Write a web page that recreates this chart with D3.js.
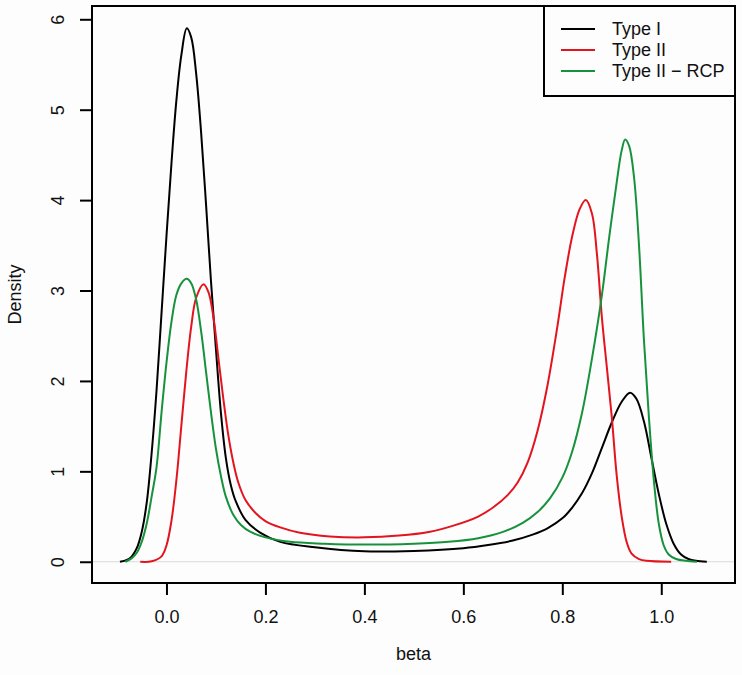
<!DOCTYPE html>
<html>
<head>
<meta charset="utf-8">
<script src="https://cdn.jsdelivr.net/npm/d3@7"></script>
<style>
  html, body { margin: 0; padding: 0; background: #fdfdfd; }
  svg { display: block; font-family: "Liberation Sans", Arial, Helvetica, sans-serif; }
</style>
</head>
<body>
<svg id="chart" width="742" height="675"></svg>
<script>
// ---- data ----
const seriesNames = ["Type I", "Type II", "Type II \u2212 RCP"];
const seriesColors = ["#000000", "#e3141e", "#17923c"];

const typeIX = [-0.094, -0.08, -0.07, -0.06, -0.05, -0.04, -0.03, -0.02, -0.01, 0.0, 0.01, 0.02, 0.03, 0.041, 0.05, 0.06, 0.07, 0.08, 0.09, 0.1, 0.11, 0.12, 0.13, 0.14, 0.16, 0.19, 0.23, 0.3, 0.4, 0.5, 0.6, 0.65, 0.7, 0.74, 0.77, 0.8, 0.82, 0.84, 0.86, 0.88, 0.9, 0.92, 0.937, 0.95, 0.965, 0.98, 0.995, 1.01, 1.025, 1.04, 1.055, 1.07, 1.092];
const typeIY = [0, 0.02, 0.06, 0.15, 0.33, 0.65, 1.2, 1.9, 2.75, 3.6, 4.4, 5.1, 5.6, 5.9, 5.8, 5.4, 4.75, 3.95, 3.1, 2.35, 1.65, 1.15, 0.85, 0.67, 0.46, 0.32, 0.22, 0.16, 0.115, 0.12, 0.15, 0.185, 0.235, 0.3, 0.37, 0.48, 0.6, 0.76, 0.98, 1.26, 1.54, 1.77, 1.87, 1.8, 1.55, 1.15, 0.75, 0.42, 0.2, 0.08, 0.03, 0.01, 0];

const typeIIX = [-0.053, -0.03, -0.01, 0.0, 0.01, 0.02, 0.03, 0.04, 0.05, 0.06, 0.075, 0.085, 0.095, 0.105, 0.115, 0.125, 0.135, 0.145, 0.16, 0.18, 0.2, 0.23, 0.27, 0.33, 0.4, 0.47, 0.53, 0.58, 0.63, 0.66, 0.69, 0.71, 0.73, 0.75, 0.77, 0.79, 0.805, 0.82, 0.835, 0.8475, 0.86, 0.87, 0.88, 0.89, 0.9, 0.91, 0.92, 0.93, 0.94, 0.955, 0.97, 1.02];
const typeIIY = [0, 0.005, 0.06, 0.18, 0.45, 0.9, 1.5, 2.1, 2.6, 2.92, 3.07, 2.98, 2.7, 2.25, 1.8, 1.4, 1.1, 0.88, 0.68, 0.54, 0.45, 0.38, 0.32, 0.28, 0.27, 0.29, 0.33, 0.4, 0.5, 0.6, 0.74, 0.88, 1.1, 1.45, 1.95, 2.6, 3.15, 3.6, 3.9, 4.0, 3.85, 3.4, 2.7, 2.15, 1.6, 0.95, 0.5, 0.22, 0.09, 0.03, 0.01, 0];

const typeIIRcpX = [-0.083, -0.07, -0.06, -0.05, -0.04, -0.03, -0.02, -0.01, 0.0, 0.01, 0.02, 0.03, 0.041, 0.05, 0.06, 0.07, 0.08, 0.09, 0.1, 0.11, 0.12, 0.135, 0.15, 0.17, 0.2, 0.25, 0.32, 0.4, 0.5, 0.57, 0.63, 0.68, 0.72, 0.75, 0.775, 0.8, 0.82, 0.84, 0.86, 0.88, 0.895, 0.91, 0.92, 0.927, 0.935, 0.945, 0.955, 0.965, 0.975, 0.985, 0.995, 1.005, 1.015, 1.03, 1.05, 1.072];
const typeIIRcpY = [0, 0.04, 0.1, 0.22, 0.42, 0.72, 1.05, 1.65, 2.2, 2.65, 2.95, 3.08, 3.13, 3.08, 2.9, 2.55, 2.1, 1.65, 1.25, 0.95, 0.72, 0.52, 0.41, 0.33, 0.27, 0.22, 0.2, 0.19, 0.2, 0.22, 0.26, 0.33, 0.43, 0.55, 0.7, 0.93, 1.22, 1.65, 2.25, 2.95, 3.6, 4.2, 4.55, 4.67, 4.6, 4.25, 3.5, 2.45, 1.6, 0.9, 0.42, 0.18, 0.08, 0.03, 0.01, 0];

const xTicks = [0.0, 0.2, 0.4, 0.6, 0.8, 1.0];
const yTicks = [0, 1, 2, 3, 4, 5, 6];
const xLabel = "beta";
const yLabel = "Density";

// ---- layout ----
const svg = d3.select("#chart");
const box = { left: 92, right: 735, top: 6, bottom: 583 };
const x = d3.scaleLinear().domain([-0.1505, 1.149]).range([box.left, box.right]);
const y = d3.scaleLinear().domain([-0.235, 6.147]).range([box.bottom, box.top]);
const fontSize = 18;

// zero line
svg.append("line")
  .attr("x1", box.left).attr("x2", box.right)
  .attr("y1", y(0)).attr("y2", y(0))
  .attr("stroke", "#d9d9d9").attr("stroke-width", 1.2);

// curves
const series = [
  { xs: typeIX, ys: typeIY },
  { xs: typeIIX, ys: typeIIY },
  { xs: typeIIRcpX, ys: typeIIRcpY }
];
const line = d3.line().x(d => x(d[0])).y(d => y(Math.max(0, d[1]))).curve(d3.curveCatmullRom.alpha(0.5));
series.forEach((s, i) => {
  const pts = s.xs.map((v, k) => [v, s.ys[k]]);
  svg.append("path")
    .attr("d", line(pts))
    .attr("fill", "none")
    .attr("stroke", seriesColors[i])
    .attr("stroke-width", 2)
    .attr("stroke-linejoin", "round");
});

// x axis
const gx = svg.append("g")
  .attr("transform", `translate(0,${box.bottom})`)
  .call(d3.axisBottom(x).tickValues(xTicks).tickFormat(d3.format(".1f")).tickSize(12).tickPadding(15));
gx.select(".domain").remove();
gx.selectAll("line").attr("stroke", "#000").attr("stroke-width", 2);
gx.selectAll("text").attr("font-size", fontSize).attr("fill", "#111").attr("font-family", null);

// y axis
const gy = svg.append("g")
  .attr("transform", `translate(${box.left},0)`)
  .call(d3.axisLeft(y).tickValues(yTicks).tickFormat(d3.format("d")).tickSize(12));
gy.select(".domain").remove();
gy.selectAll("line").attr("stroke", "#000").attr("stroke-width", 2);
gy.selectAll("text")
  .attr("font-size", fontSize).attr("fill", "#111").attr("font-family", null)
  .attr("transform", "rotate(-90)")
  .attr("x", 0).attr("y", -34).attr("dy", "0.35em")
  .attr("text-anchor", "middle");

// plot box
svg.append("rect")
  .attr("x", box.left).attr("y", box.top)
  .attr("width", box.right - box.left).attr("height", box.bottom - box.top)
  .attr("fill", "none").attr("stroke", "#000").attr("stroke-width", 2);

// axis titles
svg.append("text")
  .attr("x", (box.left + box.right) / 2).attr("y", 660)
  .attr("text-anchor", "middle").attr("font-size", fontSize).attr("fill", "#111")
  .text(xLabel);
svg.append("text")
  .attr("transform", `translate(21,${(box.top + box.bottom) / 2}) rotate(-90)`)
  .attr("text-anchor", "middle").attr("font-size", fontSize).attr("fill", "#111")
  .text(yLabel);

// legend
const lg = { left: 544, top: 6, right: 735, bottom: 96 };
svg.append("rect")
  .attr("x", lg.left).attr("y", lg.top)
  .attr("width", lg.right - lg.left).attr("height", lg.bottom - lg.top)
  .attr("fill", "#fdfdfd").attr("stroke", "#000").attr("stroke-width", 2);
seriesNames.forEach((name, i) => {
  const yy = 29 + i * 21;
  svg.append("line")
    .attr("x1", 561).attr("x2", 595).attr("y1", yy).attr("y2", yy)
    .attr("stroke", seriesColors[i]).attr("stroke-width", 2);
  svg.append("text")
    .attr("x", 612).attr("y", yy).attr("dy", "0.36em")
    .attr("font-size", fontSize).attr("fill", "#111")
    .text(name);
});
</script>
</body>
</html>
